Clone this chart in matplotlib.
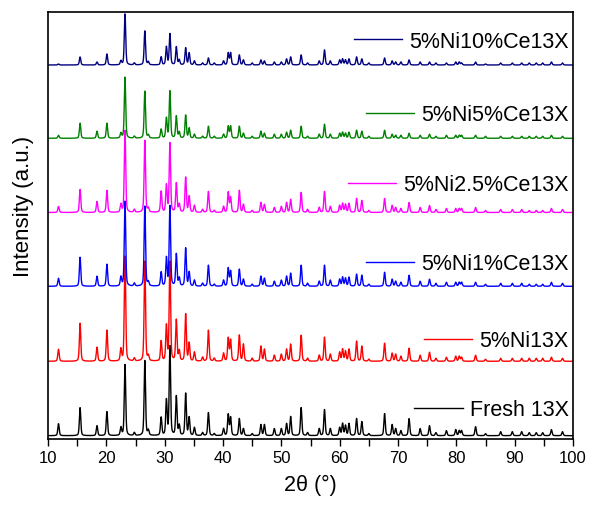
import numpy as np
import matplotlib
matplotlib.use("Agg")
import matplotlib.pyplot as plt
from matplotlib.legend import Legend

plt.rcParams['font.family'] = ['Liberation Sans', 'DejaVu Sans']

# peak positions (2theta, deg)
positions = [11.8, 15.5, 18.4, 20.1, 22.5, 23.2, 24.8, 26.6, 27.2, 29.4, 30.3,
             30.9, 32.0, 32.5, 33.6, 34.2, 35.1, 36.5, 37.5, 38.5, 40.1, 40.9,
             41.3, 42.8, 43.5, 45.0, 46.5, 47.1, 48.8, 50.0, 50.9, 51.6, 53.4,
             54.5, 56.5, 57.4, 58.4, 60.0, 60.5, 61.0, 61.6, 62.9, 63.8, 65.0,
             67.7, 69.0, 69.6, 70.5, 71.9, 73.8, 75.4, 76.5, 78.3, 79.9, 80.5,
             80.9, 83.3, 85.0, 87.6, 89.6, 91.2, 92.5, 93.7, 94.8, 96.3, 98.2]

# peak heights per sample (a.u.)
fresh = [12, 28, 10, 24, 8, 71, 3, 75, 5, 18, 35,
         89, 39, 10, 42, 18, 8, 3, 23, 2, 7, 21,
         18, 17, 7, 2, 11, 11, 7, 7, 12, 19, 28,
         3, 7, 26, 7, 8, 12, 10, 12, 17, 14, 2,
         22, 11, 7, 5, 17, 7, 10, 3, 5, 6, 5,
         5, 9, 2, 4, 4, 4, 3, 3, 3, 6, 4]
ni = [12, 38, 14, 31, 12, 105, 3, 100, 5, 20, 35,
      99, 41, 10, 47, 18, 9, 4, 31, 3, 8, 23,
      21, 26, 17, 3, 15, 12, 6, 7, 12, 17, 26,
      3, 6, 24, 7, 9, 12, 10, 12, 20, 15, 2,
      18, 8, 7, 5, 13, 6, 9, 3, 4, 5, 5,
      4, 6, 2, 3, 3, 3, 3, 3, 3, 4, 3]
ce1 = [8, 29, 10, 22, 9, 85, 3, 80, 4, 14, 28,
       80, 32, 8, 38, 14, 6, 3, 21, 2, 6, 18,
       15, 17, 7, 2, 10, 8, 5, 6, 10, 13, 21,
       3, 5, 21, 6, 7, 9, 8, 9, 12, 11, 2,
       14, 7, 5, 4, 11, 5, 7, 3, 4, 4, 4,
       4, 4, 2, 3, 3, 3, 2, 2, 2, 4, 3]
ce25 = [6, 23, 11, 22, 8, 82, 3, 72, 4, 21, 27,
        69, 29, 8, 35, 16, 7, 3, 21, 2, 6, 20,
        15, 22, 8, 2, 10, 8, 5, 6, 10, 13, 20,
        3, 5, 21, 6, 7, 9, 8, 9, 14, 12, 2,
        14, 7, 5, 4, 10, 5, 7, 3, 4, 4, 4,
        4, 5, 2, 3, 3, 3, 2, 2, 2, 4, 3]
ce5 = [3, 15, 7, 15, 5, 61, 2, 47, 3, 9, 20,
       47, 22, 6, 23, 10, 4, 2, 12, 2, 4, 12,
       12, 12, 5, 2, 7, 5, 4, 4, 6, 8, 12,
       2, 4, 14, 4, 5, 6, 5, 6, 8, 7, 2,
       8, 4, 3, 3, 5, 3, 4, 2, 3, 3, 3,
       3, 3, 2, 2, 2, 2, 2, 2, 2, 3, 2]
ce10 = [1, 8, 3, 11, 4, 51, 2, 34, 3, 8, 18,
        31, 18, 5, 17, 12, 4, 2, 7, 2, 4, 12,
        12, 10, 5, 2, 5, 4, 3, 3, 6, 8, 10,
        2, 4, 15, 4, 5, 6, 5, 6, 8, 6, 2,
        7, 4, 3, 3, 5, 3, 3, 2, 2, 3, 3,
        2, 3, 1, 2, 2, 2, 2, 2, 2, 3, 2]

labels = ["Fresh 13X", "5%Ni13X", "5%Ni1%Ce13X", "5%Ni2.5%Ce13X",
          "5%Ni5%Ce13X", "5%Ni10%Ce13X"]
series = [fresh, ni, ce1, ce25, ce5, ce10]
offsets = [3.3, 77.7, 152.7, 226.5, 300.7, 374]
colors = ["black", "#ff0000", "#0000ff", "#ff00ff", "#008000", "#000080"]
label_y = [0.068, 0.230, 0.410, 0.595, 0.759, 0.932]


def profile(tt, pos, heights, w=0.14):
    y = np.zeros_like(tt)
    for p, h in zip(pos, heights):
        d = (tt - p) / w
        y += h * (0.6 * np.exp(-np.log(2) * d**2) + 0.4 / (1 + d**2))
    return y


tt = np.arange(10, 100.001, 0.02)

fig = plt.figure(figsize=(5.89, 5.06), dpi=100)
ax = fig.add_axes([48/589, 1 - 440/506, 525/589, 427/506])

for lab, h, off, c, ly in zip(labels, series, offsets, colors, label_y):
    line, = ax.plot(tt, profile(tt, positions, h) + off, color=c, lw=1.0)
    leg = Legend(ax, [line], [lab], loc='center right', bbox_to_anchor=(0.992, ly),
                 frameon=False, fontsize=15.5, handlelength=2.25,
                 handletextpad=0.33, borderpad=0, borderaxespad=0)
    ax.add_artist(leg)

ax.set_xlim(10, 100)
ax.set_ylim(0, 427)
ax.set_xticks(np.arange(10, 101, 10))
ax.set_xticks(np.arange(15, 100, 10), minor=True)
ax.set_yticks([])
ax.tick_params(axis='x', which='both', direction='out', length=5, width=1,
               labelsize=12, pad=3)
for s in ax.spines.values():
    s.set_linewidth(1.2)

ax.set_xlabel("2θ (°)", fontsize=15.5, labelpad=6)
ax.set_ylabel("Intensity (a.u.)", fontsize=16)
ax.yaxis.set_label_coords(-0.027, 0.546)

fig.savefig("out.png", dpi=100)
